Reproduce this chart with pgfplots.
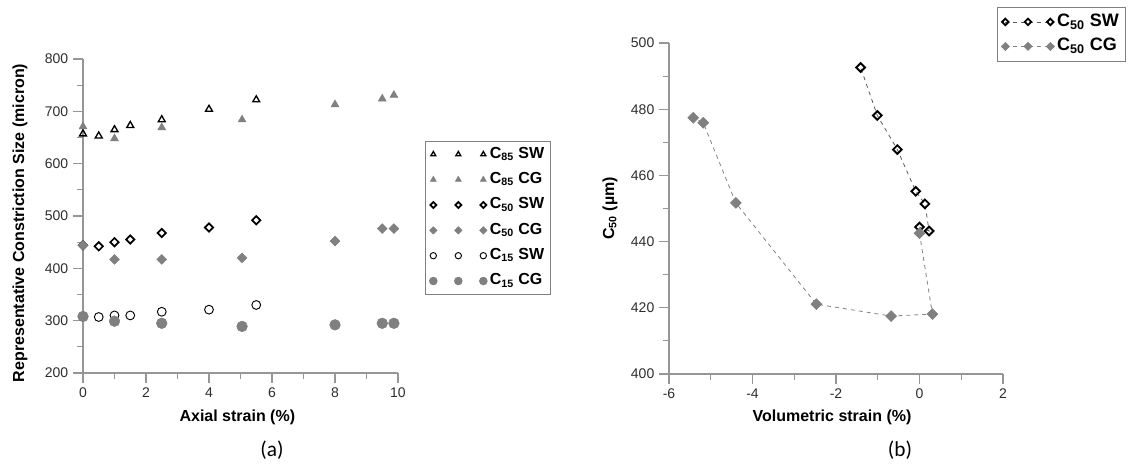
\documentclass[border=0pt]{standalone}
\usepackage{pgfplots}
\pgfplotsset{compat=1.18}
\usepackage{fontspec}
\setmainfont{Liberation Sans}
\newfontfamily\calibri{Carlito}
\definecolor{cGray}{RGB}{128,128,128}
\definecolor{cAxis}{RGB}{150,150,150}
\definecolor{cTick}{RGB}{45,45,45}
\definecolor{cDashSW}{RGB}{90,90,90}
\definecolor{cDashCG}{RGB}{130,130,130}
\pgfplotsset{
  panel/.style={
    scale only axis,
    axis lines=left,
    axis line style={cAxis, line width=0.8pt, -},
    tick align=outside, tick pos=left,
    major tick length=7.5pt, minor tick length=4.5pt,
    tick style={cAxis, line width=0.8pt},
    tick label style={font=\fontsize{10.5}{12}\selectfont, text=cTick},
    /pgf/number format/assume math mode=true,
    label style={font=\bfseries\fontsize{12}{14}\selectfont},
    enlargelimits=false, clip=false,
    legend cell align=left,
    legend style={draw=cGray, line width=0.6pt, anchor=north west},
  },
  threemarks/.style={legend image code/.code={
    \draw[##1, mark repeat=1, mark phase=1, every mark/.append style={scale=0.72}]
      plot coordinates {(0pt,0pt) (18.75pt,0pt) (37.5pt,0pt)};}},
  threeline/.style={legend image code/.code={
    \draw[##1, mark repeat=1, mark phase=1, every mark/.append style={scale=0.75}]
      plot coordinates {(0pt,0pt) (17pt,0pt) (33.75pt,0pt)};}},
}
\begin{document}
\begin{tikzpicture}
\path[use as bounding box] (0,0) rectangle (854.25pt,-349.5pt);
% (a) constriction sizes against axial strain
\begin{axis}[
  panel,
  at={(62.25pt,-279.75pt)}, anchor=south west,
  width=236.25pt, height=235.5pt,
  xmin=0, xmax=10, ymin=200, ymax=800,
  xtick={0,2,...,10}, ytick={200,300,...,800},
  minor x tick num=1, minor y tick num=1,
  xlabel={Axial strain (\%)},
  ylabel={Representative Constriction Size (micron)},
  xlabel style={at={(axis description cs:0.49,-0.14)}, anchor=center},
  ylabel style={at={(axis description cs:-0.2,0.478)}, anchor=center},
  legend style={at={(rel axis cs:1.086,0.739)},
                font=\bfseries\fontsize{12}{14}\selectfont,
                nodes={text height=8.5pt, text depth=3pt, inner sep=2pt},
                row sep=3.5pt},
]
\addplot[only marks, threemarks, mark=triangle, mark size=3pt, black, line width=1pt]
  coordinates {(0,657) (0.5,653) (1,665) (1.5,673) (2.5,684) (4,704) (5.5,722)};
\addplot[only marks, threemarks, mark=triangle*, mark size=3.4pt, cGray]
  coordinates {(0,671) (1,648) (2.5,669) (5.05,684) (8,713) (9.5,724) (9.87,731)};
\addplot[only marks, threemarks, mark=square, mark options={rotate=45}, mark size=2.2pt, black, line width=1.3pt]
  coordinates {(0,444) (0.5,442) (1,450) (1.5,455) (2.5,467.5) (4,478) (5.5,492)};
\addplot[only marks, threemarks, mark=square*, mark options={rotate=45}, mark size=2.6pt, cGray]
  coordinates {(0,444) (1,417) (2.5,417) (5.05,420) (8,452) (9.5,476) (9.87,476)};
\addplot[only marks, threemarks, mark=o, mark size=3.3pt, black, line width=0.7pt]
  coordinates {(0,308) (0.5,307) (1,310) (1.5,310) (2.5,317) (4,321) (5.5,330)};
\addplot[only marks, threemarks, mark=*, mark size=4pt, cGray]
  coordinates {(0,308) (1,299) (2.5,295) (5.05,289) (8,292) (9.5,295) (9.87,295)};
\legend{C\textsubscript{85} SW, C\textsubscript{85} CG, C\textsubscript{50} SW,
        C\textsubscript{50} CG, C\textsubscript{15} SW, C\textsubscript{15} CG}
\end{axis}
% (b) C50 against volumetric strain
\begin{axis}[
  panel,
  at={(501.75pt,-280.5pt)}, anchor=south west,
  width=250.5pt, height=248.25pt,
  xmin=-6, xmax=2, ymin=400, ymax=500,
  xtick={-6,-4,...,2}, ytick={400,420,...,500},
  minor x tick num=1, minor y tick num=1,
  xlabel={Volumetric strain (\%)},
  ylabel={C\textsubscript{50} (µm)},
  xlabel style={at={(axis description cs:0.488,-0.13)}, anchor=center},
  ylabel style={at={(axis description cs:-0.177,0.5)}, anchor=center},
  legend style={at={(rel axis cs:0.982,1.109)},
                font=\bfseries\fontsize{13.5}{15}\selectfont,
                nodes={text height=10pt, text depth=3.5pt, inner sep=2.2pt},
                row sep=0.5pt},
]
\addplot[threeline, cDashSW, dashed, line width=0.6pt, mark=square, mark size=2.3pt,
  mark options={solid, rotate=45, black, line width=1.4pt}]
  coordinates {(0,444.4) (0.23,443.2) (0.13,451.4) (-0.09,455.2) (-0.53,467.8) (-1.01,478.1) (-1.41,492.6)};
\addplot[threeline, cDashCG, dashed, line width=0.6pt, mark=square*, mark size=2.8pt,
  mark options={solid, rotate=45, cGray}]
  coordinates {(0,442.5) (0.31,418.1) (-0.68,417.5) (-2.47,421.1) (-4.40,451.7) (-5.18,475.9) (-5.42,477.4)};
\legend{C\textsubscript{50} SW, C\textsubscript{50} CG}
\end{axis}
\node[font=\calibri\fontsize{16}{18}\selectfont] at (204pt,-337.5pt) {(a)};
\node[font=\calibri\fontsize{16}{18}\selectfont] at (675pt,-337.5pt) {(b)};
\end{tikzpicture}
\end{document}
